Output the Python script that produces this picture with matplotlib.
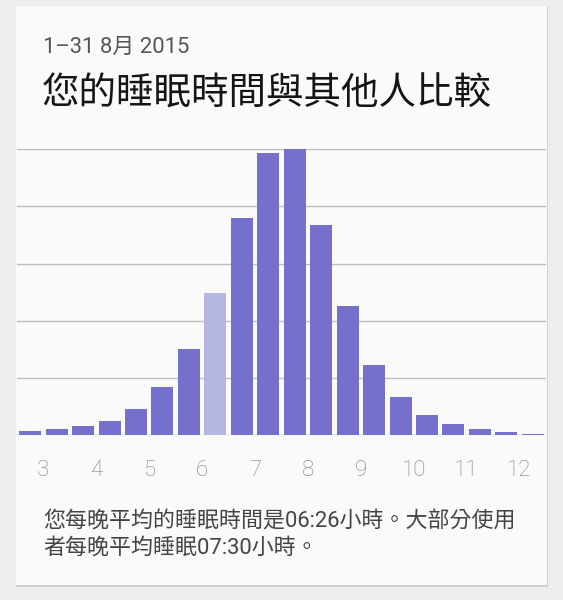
import matplotlib
matplotlib.use("Agg")
import matplotlib.pyplot as plt
from matplotlib.patches import Rectangle

# ---- data ----
bin_starts = [2.5, 3.0, 3.5, 4.0, 4.5, 5.0, 5.5, 6.0, 6.5, 7.0,
              7.5, 8.0, 8.5, 9.0, 9.5, 10.0, 10.5, 11.0, 11.5, 12.0]
share = [0.07, 0.10, 0.15, 0.25, 0.46, 0.84, 1.51, 2.49, 3.80, 4.94,
         5.01, 3.68, 2.25, 1.23, 0.66, 0.35, 0.19, 0.10, 0.05, 0.02]
highlight_index = 7
tick_values = [3, 4, 5, 6, 7, 8, 9, 10, 11, 12]
tick_labels = ["3", "4", "5", "6", "7", "8", "9", "10", "11", "12"]
date_text = "1–31 8月 2015"
title_text = "您的睡眠時間與其他人比較"
note_lines = ["您每晚平均的睡眠時間是06:26小時。大部分使用",
              "者每晚平均睡眠07:30小時。"]

W, H = 563, 600
fig = plt.figure(figsize=(W / 100, H / 100), dpi=100)
fig.patch.set_facecolor("#eeeeee")

def fx(px):
    return px / W

def fy(py):
    return 1 - py / H

# card shadow + card
fig.add_artist(Rectangle((fx(16), fy(586.5)), fx(531.5), (579.5) / H,
                         transform=fig.transFigure, facecolor="#d2d2d2",
                         edgecolor="none", zorder=-3))
fig.add_artist(Rectangle((fx(16), fy(584.5)), fx(530.5), (578.5) / H,
                         transform=fig.transFigure, facecolor="#fafafa",
                         edgecolor="none", zorder=-2))

cjk = ["Roboto", "Noto Sans CJK TC", "DejaVu Sans"]

fig.text(fx(43), fy(47), date_text, family=cjk, fontsize=15.8,
         color="#555555", va="center", ha="left")
fig.text(fx(42), fy(94), title_text, family=["Noto Sans CJK TC"],
         fontsize=27.0, color="#151515", va="center", ha="left")

ax = fig.add_axes([fx(17), fy(435), fx(546) - fx(17), (435 - 149.3) / H])
ax.set_facecolor("none")
ax.set_xlim(2.5, 12.5)
ax.set_ylim(0, 5)

colors = ["#b5b5e1" if i == highlight_index else "#7470cc"
          for i in range(len(share))]
bw = 0.415
ax.bar([b + (0.5 - bw) / 2 for b in bin_starts], share, width=bw,
       align="edge", color=colors, edgecolor="none", zorder=3, clip_on=False)

for g in range(0, 6):
    ax.axhline(g, color="#bdbdbd", lw=1.0, zorder=1)

for s in ax.spines.values():
    s.set_visible(False)
ax.set_yticks([])
ax.set_xticks(tick_values)
ax.set_xticklabels(tick_labels, family=["Roboto"], fontweight="light",
                   fontsize=16, color="#7f7f7f")
ax.tick_params(axis="x", length=0, pad=18)

for i, line in enumerate(note_lines):
    fig.text(fx(43), fy(522 + 26.5 * i), line, family=cjk, fontsize=15.8,
             color="#444444", va="center", ha="left")

fig.savefig("out.png", dpi=100, facecolor=fig.get_facecolor())
